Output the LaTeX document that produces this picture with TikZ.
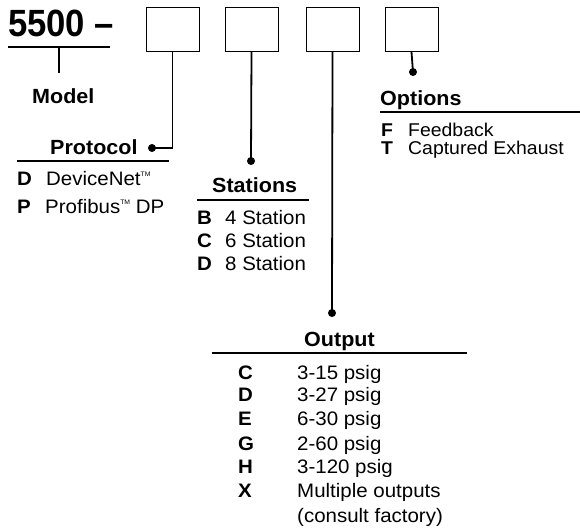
\documentclass[tikz,border=0pt]{standalone}
\usepackage{fontspec}
\setmainfont{Liberation Sans}[FakeStretch=1.05]
\begin{document}
\begin{tikzpicture}[x=1pt,y=-1pt,
  lbl/.style={anchor=base west,inner sep=0pt,text height=13pt,text depth=2pt,font=\fontsize{19.5}{22}\selectfont},
  hd/.style={anchor=base west,inner sep=0pt,text height=14pt,text depth=2pt,font=\fontsize{20.5}{24}\selectfont\bfseries},
  key/.style={anchor=base west,inner sep=0pt,text height=13pt,text depth=2pt,font=\fontsize{19.5}{22}\selectfont\bfseries},
  optl/.style={lbl,font=\fontsize{18.5}{20}\selectfont},
  optk/.style={key,font=\fontsize{18.5}{20}\selectfont\bfseries},
  codebox/.style={draw,line width=0.9pt,minimum width=53pt,minimum height=44pt,inner sep=0pt},
  conn/.style={line width=1.8pt},
  rulex/.style={line width=1.2pt},
  dotc/.style={circle,fill=black,inner sep=0pt,minimum size=8pt}]
\useasboundingbox (0,0) rectangle (580,527);
\newcommand{\tmk}{\raisebox{8.5pt}{\fontsize{6.5}{7}\selectfont TM}}
% title
\node[anchor=base west,inner sep=0pt,font=\fontsize{33}{40}\selectfont\bfseries] (title) at (8,37) {\scalebox{1}[1.15]{5500 --}};
\coordinate (ulL) at (8,47);
\coordinate (ulR) at (110,47);
\draw[conn] (ulL) -- (ulR);
\coordinate (mtop) at (59,47);
\coordinate (mbot) at (59,73);
\draw[conn] (mtop) -- (mbot);
\node[hd] (model) at (32,103) {Model};
% boxes
\node[codebox] (b1) at (172.5,29) {};
\node[codebox] (b2) at (251.5,29) {};
\node[codebox] (b3) at (332.5,29.5) {};
\node[codebox] (b4) at (411.5,29.5) {};
% dots
\node[dotc] (d1) at (152,148) {};
\node[dotc] (d2) at (251,161) {};
\node[dotc] (d3) at (332,313) {};
\node[dotc] (d4) at (413,72) {};
\draw[conn] (b1.south) -- (172.5,148) -- (d1.center);
\draw[conn] (b2.south) -- (d2.center);
\draw[conn] (b3.south) -- (d3.center);
\draw[conn] (b4.south) -- (d4.center);
% Protocol
\node[hd] (prot) at (50,154) {Protocol};
\coordinate (pr1) at (17,161);
\coordinate (pr2) at (169,161);
\draw[rulex] (pr1) -- (pr2);
\node[key] (pD) at (17,185) {D};
\node[lbl] (pDt) at (46,185) {DeviceNet\tmk};
\node[key] (pP) at (17,213) {P};
\node[lbl] (pPt) at (45,213) {Profibus\tmk\ DP};
% Stations
\node[hd] (stat) at (212,192) {Stations};
\coordinate (sr1) at (197,200);
\coordinate (sr2) at (309,200);
\draw[rulex] (sr1) -- (sr2);
\node[key] (sB) at (197,224) {B};
\node[lbl] (sBt) at (225,224) {4 Station};
\node[key] (sC) at (197,247) {C};
\node[lbl] (sCt) at (225,247) {6 Station};
\node[key] (sD) at (197,270) {D};
\node[lbl] (sDt) at (225,270) {8 Station};
% Options
\node[hd] (opt) at (380,105) {Options};
\coordinate (or1) at (380,112);
\coordinate (or2) at (580,112);
\draw[rulex] (or1) -- (or2);
\node[optk] (oF) at (381,136.5) {F};
\node[optl] (oFt) at (408,136.5) {Feedback};
\node[optk] (oT) at (381,154) {T};
\node[optl] (oTt) at (408,154) {Captured Exhaust};
% Output
\node[hd] (out) at (304,346) {Output};
\coordinate (ur1) at (212,353);
\coordinate (ur2) at (467,353);
\draw[rulex] (ur1) -- (ur2);
\node[key] (uC) at (238,379) {C};
\node[lbl] (uCt) at (297,379) {3-15 psig};
\node[key] (uD) at (238,401) {D};
\node[lbl] (uDt) at (297,401) {3-27 psig};
\node[key] (uE) at (238,425) {E};
\node[lbl] (uEt) at (297,425) {6-30 psig};
\node[key] (uG) at (238,450) {G};
\node[lbl] (uGt) at (297,450) {2-60 psig};
\node[key] (uH) at (238,473) {H};
\node[lbl] (uHt) at (297,473) {3-120 psig};
\node[key] (uX) at (238,497) {X};
\node[lbl] (uXt) at (297,497) {Multiple outputs};
\node[lbl] (uXt2) at (297,522) {(consult factory)};
\end{tikzpicture}
\end{document}
